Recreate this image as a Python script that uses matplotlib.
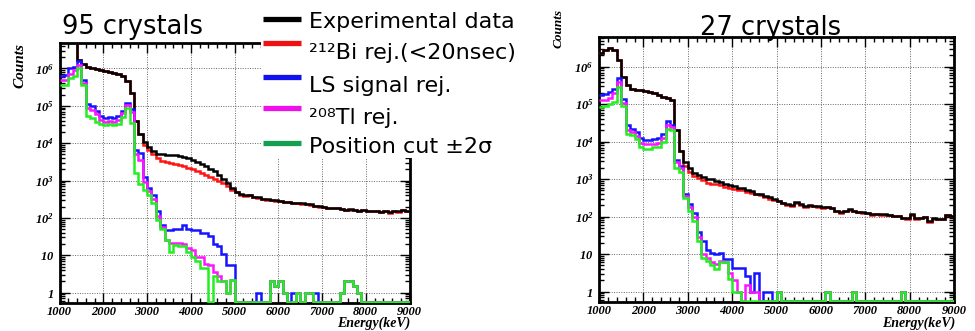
import numpy as np
import matplotlib
matplotlib.use("Agg")
import matplotlib.pyplot as plt
from matplotlib.lines import Line2D
from matplotlib.patches import Rectangle
from matplotlib.ticker import MultipleLocator, LogLocator, NullFormatter

plt.rcParams["mathtext.fontset"] = "custom"
plt.rcParams["mathtext.rm"] = "Liberation Serif:italic:bold"
plt.rcParams["mathtext.it"] = "Liberation Serif:italic:bold"
plt.rcParams["mathtext.bf"] = "Liberation Serif:italic:bold"

# 100 keV bins, 1000 - 9000 keV
edges = np.arange(1000, 9001, 100)

xticks = [1000, 2000, 3000, 4000, 5000, 6000, 7000, 8000, 9000]
yticks = [1, 10, 1e2, 1e3, 1e4, 1e5, 1e6]
ytick_labels = ["$1$", "$10$", "$10^{2}$", "$10^{3}$", "$10^{4}$", "$10^{5}$", "$10^{6}$"]

titles = ["95 crystals", "27 crystals"]
legend_labels = ["Experimental data", "\u00b2\u00b9\u00b2Bi rej.(<20nsec)", "LS signal rej.",
                 "\u00b2\u2070\u2078Tl rej.", "Position cut \u00b12\u03c3"]

# ---- 95 crystals ----
black_95 = [1e7, 1e7, 1e7, 1e7, 1.7e6, 1.3e6, 1.1e6, 1.05e6, 9.5e5, 8.9e5,
            8.5e5, 7.9e5, 7.4e5, 6.9e5, 6.3e5, 4.5e5, 2.2e5, 4e4, 1.8e4, 1.1e4,
            7.9e3, 6e3, 5.2e3, 5e3, 4.9e3, 4.8e3, 4.7e3, 4.6e3, 4.3e3, 4e3,
            3.6e3, 3.2e3, 2.75e3, 2.4e3, 2.1e3, 1.8e3, 1.4e3, 1.1e3, 850, 630,
            500, 440, 400, 415, 370, 355, 330, 315, 310, 295,
            280, 270, 275, 257, 250, 245, 235, 230, 210, 205,
            200, 190, 186, 190, 178, 166, 170, 162, 158, 162,
            158, 155, 158, 145, 151, 141, 158, 151, 162, 158]
red_95 = [1e7, 1e7, 1e7, 1e7, 1.7e6, 1.3e6, 1.1e6, 1.05e6, 9.5e5, 8.9e5,
          8.5e5, 7.9e5, 7.4e5, 6.9e5, 6.3e5, 4.5e5, 2.2e5, 4e4, 1.8e4, 8.9e3,
          6.6e3, 5e3, 4e3, 3.3e3, 3.16e3, 2.95e3, 2.8e3, 2.6e3, 2.4e3, 2.2e3,
          2e3, 1.8e3, 1.6e3, 1.4e3, 1.26e3, 1.12e3, 1e3, 870, 710, 575,
          480, 417, 380, 400, 365, 350, 325, 310, 305, 290,
          278, 265, 272, 255, 248, 240, 232, 226, 205, 202,
          198, 185, 184, 188, 176, 164, 168, 160, 156, 160,
          156, 153, 156, 143, 150, 139, 156, 148, 160, 156]
blue_95 = [6.3e5, 6.6e5, 1e6, 1.1e6, 1.6e6, 5e5, 1.1e5, 1e5, 7.2e4, 5.4e4,
           4.8e4, 5e4, 4.8e4, 5.2e4, 7.2e4, 1.2e5, 8.3e4, 6.6e3, 5.6e3, 1.23e3,
           630, 417, 158, 63, 48, 48, 50, 52, 65, 52,
           48, 48, 39, 39, 32, 20, 18, 11, 5.6, 5.6,
           0, 0, 0, 0, 0, 1, 0, 0, 2, 1.5,
           2, 1, 0, 1, 1, 0, 1, 1, 1, 0,
           0, 0, 0, 0, 1, 2, 2, 1.5, 1, 0,
           0, 0, 0, 0, 0, 0, 0, 0, 0, 0]
magenta_95 = [4.8e5, 5e5, 7e5, 8.9e5, 1.26e6, 4.2e5, 8.9e4, 7.9e4, 6e4, 4.2e4,
              3.8e4, 4e4, 3.8e4, 4.3e4, 6.3e4, 1.05e5, 7e4, 5e3, 3.5e3, 890,
              525, 316, 112, 56, 26, 22, 22, 22, 20, 16,
              14, 9, 9, 6, 5.6, 3.5, 2.75, 2, 1, 2.2,
              0, 0, 0, 0, 0, 0, 0, 0, 2, 1.5,
              2, 1, 0, 0, 1, 0, 1, 1, 0, 0,
              0, 0, 0, 0, 1, 2, 2, 1.5, 1, 0,
              0, 0, 0, 0, 0, 0, 0, 0, 0, 0]
green_95 = [3.5e5, 3.6e5, 5.4e5, 6.3e5, 1e6, 3.5e5, 5.2e4, 4.6e4, 3.6e4, 3.2e4,
            3e4, 3.2e4, 3e4, 3.3e4, 5e4, 8.9e4, 3.5e4, 1.6e3, 800, 560,
            400, 250, 89, 50, 26, 12.6, 19, 17.4, 17.4, 12.6,
            9.3, 7, 4.5, 4.5, 0, 2.75, 2, 2, 1, 2.2,
            0, 0, 0, 0, 0, 0, 0, 0, 2, 1.5,
            2, 1, 0, 0, 1, 0, 1, 1, 0, 0,
            0, 0, 0, 0, 1, 2, 2, 1.5, 1, 0,
            0, 0, 0, 0, 0, 0, 0, 0, 0, 0]

# ---- 27 crystals ----
black_27 = [2.3e6, 2.8e6, 3.1e6, 2.8e6, 1.5e6, 5.4e5, 3.2e5, 2.6e5, 2.4e5, 2.4e5,
            2.3e5, 2.1e5, 2e5, 1.8e5, 1.6e5, 1.5e5, 1.26e5, 2e4, 5.6e3, 2.8e3,
            2e3, 1.5e3, 1.26e3, 1.17e3, 1e3, 1e3, 910, 830, 740, 710,
            660, 600, 575, 500, 480, 415, 400, 355, 325, 295,
            263, 230, 215, 200, 240, 215, 190, 200, 195, 190,
            178, 182, 174, 145, 132, 141, 158, 145, 135, 132,
            126, 117, 120, 115, 117, 112, 107, 105, 93, 91,
            115, 91, 93, 100, 76, 91, 89, 87, 112, 105]
red_27 = [2.3e6, 2.8e6, 3.1e6, 2.8e6, 1.5e6, 5.4e5, 3.2e5, 2.6e5, 2.4e5, 2.4e5,
          2.3e5, 2.1e5, 2e5, 1.8e5, 1.6e5, 1.5e5, 1.26e5, 2e4, 5.6e3, 2.2e3,
          1.6e3, 1.23e3, 1.05e3, 955, 794, 740, 724, 690, 630, 600,
          560, 525, 500, 457, 427, 400, 372, 340, 300, 282,
          255, 225, 210, 196, 232, 210, 186, 195, 190, 186,
          174, 178, 170, 142, 129, 138, 154, 142, 132, 129,
          123, 114, 117, 112, 114, 109, 104, 102, 91, 89,
          112, 89, 91, 97, 74, 89, 87, 85, 109, 102]
blue_27 = [1.8e5, 1.9e5, 2.1e5, 2.6e5, 5e5, 1.4e5, 2.75e4, 2.2e4, 1.8e4, 1.26e4,
           1.1e4, 1.1e4, 1.2e4, 1.26e4, 1.6e4, 3.5e4, 2.8e4, 3.2e3, 2.2e3, 400,
           214, 126, 38, 22, 12.6, 11, 10, 11, 7.4, 7.4,
           4.4, 4.4, 4.4, 2.6, 1, 3.2, 0, 1, 1, 0,
           1, 0, 0, 0, 0, 0, 0, 0, 0, 0,
           0, 1, 0, 0, 0, 0, 0, 1, 0, 0,
           0, 0, 0, 0, 0, 0, 0, 0, 1, 0,
           0, 0, 0, 0, 0, 0, 0, 0, 0, 0]
magenta_27 = [1.26e5, 1.3e5, 1.5e5, 2e5, 4e5, 1.1e5, 2e4, 1.8e4, 1.4e4, 9.3e3,
              8.5e3, 8.5e3, 8.9e3, 9.3e3, 1.26e4, 2.8e4, 2.4e4, 2.8e3, 2e3, 355,
              178, 100, 28, 10, 8, 6.3, 5.6, 6.6, 6.3, 3.2,
              2, 1, 0, 1.5, 1, 1, 0, 0, 0, 0,
              1, 0, 0, 0, 0, 0, 0, 0, 0, 0,
              0, 1, 0, 0, 0, 0, 0, 1, 0, 0,
              0, 0, 0, 0, 0, 0, 0, 0, 1, 0,
              0, 0, 0, 0, 0, 0, 0, 0, 0, 0]
green_27 = [8.5e4, 8.9e4, 1e5, 1.15e5, 2.9e5, 9e4, 1.6e4, 1.5e4, 1.2e4, 7.2e3,
            6.5e3, 6.5e3, 7.2e3, 7.2e3, 1e4, 2.15e4, 2e4, 2e3, 1.6e3, 316,
            141, 79, 23, 8, 6.6, 5, 4, 6.3, 6.3, 2.2,
            1, 1, 0, 0, 0, 0, 0, 0, 0, 0,
            1, 0, 0, 0, 0, 0, 0, 0, 0, 0,
            0, 1, 0, 0, 0, 0, 0, 1, 0, 0,
            0, 0, 0, 0, 0, 0, 0, 0, 1, 0,
            0, 0, 0, 0, 0, 0, 0, 0, 0, 0]

hist_colors = ["#ff1414", "#000000", "#1414ff", "#ff14ff", "#22ee22"]   # drawing order: red, black, blue, magenta, green
legend_colors = ["#000000", "#ee1111", "#1111ee", "#ee11ee", "#14a050"]

W, H = 975, 331
fig = plt.figure(figsize=(W / 100, H / 100), dpi=100)


def fx(px):
    return px / W


def fy(py):
    return 1 - py / H


def draw_panel(rect, series, ymax):
    ax = fig.add_axes(rect)
    ax.set_yscale("log")
    ax.set_xlim(1000, 9000)
    ax.set_ylim(0.53, ymax)
    floor = 0.555  # empty bins sit on the bottom frame
    for vals, col in zip(series, hist_colors):
        v = np.clip(np.asarray(vals, dtype=float), floor, None)
        ax.stairs(v, edges, baseline=None, color=col, lw=1.8, zorder=3)

    ax.set_xticks(xticks)
    ax.set_xticklabels([str(t) for t in xticks])
    ax.xaxis.set_minor_locator(MultipleLocator(200))
    ax.set_yticks(yticks)
    ax.set_yticklabels(ytick_labels)
    ax.yaxis.set_minor_locator(LogLocator(base=10, subs=np.arange(2, 10)))
    ax.yaxis.set_minor_formatter(NullFormatter())
    ax.tick_params(which="both", direction="in", top=True, right=True, width=1)
    ax.tick_params(which="major", length=7)
    ax.tick_params(which="minor", length=3.5)
    ax.tick_params(axis="x", pad=2)
    ax.tick_params(axis="y", pad=4)
    for lab in ax.get_xticklabels():
        lab.set_fontfamily("Liberation Serif")
        lab.set_fontweight("bold")
        lab.set_fontstyle("italic")
        lab.set_fontsize(9)
    for lab in ax.get_yticklabels():
        lab.set_fontsize(9)
    ax.grid(True, which="major", ls=(0, (1, 1.5)), color="#666666", lw=0.7)
    for s in ax.spines.values():
        s.set_linewidth(2)
    return ax


ax1 = draw_panel([fx(59.5), 1 - 303 / H, fx(409.5) - fx(59.5), 260 / H],
                 [red_95, black_95, blue_95, magenta_95, green_95], 4.8e6)
ax2 = draw_panel([fx(599), 1 - 302 / H, fx(954) - fx(599), 265 / H],
                 [red_27, black_27, blue_27, magenta_27, green_27], 6.2e6)

serif_bi = dict(family="Liberation Serif", weight="bold", style="italic")
fig.text(fx(20), fy(66), "Counts", rotation=90, ha="center", va="center", fontsize=11, **serif_bi)
fig.text(fx(559), fy(29), "Counts", rotation=90, ha="center", va="center", fontsize=9.5, **serif_bi)
fig.text(fx(410), fy(330), "Energy(keV)", ha="right", va="bottom", fontsize=10, **serif_bi)
fig.text(fx(955), fy(330), "Energy(keV)", ha="right", va="bottom", fontsize=10, **serif_bi)

fig.text(fx(62), fy(27), titles[0], ha="left", va="center", fontsize=18.5, family="DejaVu Sans")
fig.text(fx(771), fy(28), titles[1], ha="center", va="center", fontsize=18.5, family="DejaVu Sans")

# legend overlay (white box over the top-right of the left frame)
fig.patches.append(Rectangle((fx(261), fy(158)), fx(420) - fx(261), fy(40) - fy(158),
                             transform=fig.transFigure, facecolor="white", edgecolor="none", zorder=4))
line_y = [19, 43, 77, 108, 143]
text_y = [22, 53, 86, 118, 147]
for ly, ty, col, lab in zip(line_y, text_y, legend_colors, legend_labels):
    fig.add_artist(Line2D([fx(263), fx(301)], [fy(ly), fy(ly)], transform=fig.transFigure,
                          color=col, lw=3.8, solid_capstyle="butt", zorder=5))
    fig.text(fx(309), fy(ty), lab, ha="left", va="center", fontsize=16, family="DejaVu Sans", zorder=6)

fig.savefig("out.png", dpi=100)
